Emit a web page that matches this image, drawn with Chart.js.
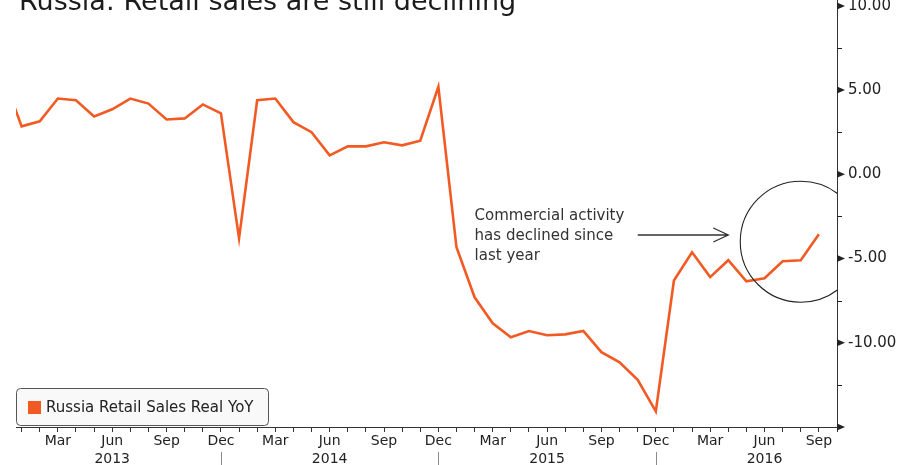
<!DOCTYPE html>
<html>
<head>
<meta charset="utf-8">
<script src="https://cdn.jsdelivr.net/npm/chart.js@4/dist/chart.umd.min.js"></script>
<style>
html,body{margin:0;padding:0;background:#fff;overflow:hidden}
canvas{display:block}
</style>
</head>
<body>
<canvas id="c" width="899" height="465"></canvas>
<script>
// ---- data ----
const titleText = 'Russia: Retail sales are still declining';
const seriesLabel = 'Russia Retail Sales Real YoY';

const months = [
  'Dec 2012',
  'Jan 2013','Feb 2013','Mar 2013','Apr 2013','May 2013','Jun 2013',
  'Jul 2013','Aug 2013','Sep 2013','Oct 2013','Nov 2013','Dec 2013',
  'Jan 2014','Feb 2014','Mar 2014','Apr 2014','May 2014','Jun 2014',
  'Jul 2014','Aug 2014','Sep 2014','Oct 2014','Nov 2014','Dec 2014',
  'Jan 2015','Feb 2015','Mar 2015','Apr 2015','May 2015','Jun 2015',
  'Jul 2015','Aug 2015','Sep 2015','Oct 2015','Nov 2015','Dec 2015',
  'Jan 2016','Feb 2016','Mar 2016','Apr 2016','May 2016','Jun 2016',
  'Jul 2016','Aug 2016','Sep 2016','Oct 2016'
];

const retailSalesRealYoY = [
  5.8,
  2.85, 3.15, 4.5, 4.4, 3.44, 3.86,
  4.5, 4.2, 3.26, 3.32, 4.15, 3.62,
  -3.8, 4.4, 4.5, 3.1, 2.5, 1.13,
  1.66, 1.66, 1.9, 1.72, 2.0, 5.2,
  -4.33, -7.3, -8.84, -9.67, -9.3, -9.55,
  -9.5, -9.3, -10.56, -11.16, -12.2, -14.07,
  -6.3, -4.63, -6.1, -5.1, -6.35, -6.17,
  -5.16, -5.1, -3.56
];

const shownMonths = ['Mar', 'Jun', 'Sep', 'Dec'];
const yearLabelMonth = 'Jun';
const yearSeparatorMonth = 'Dec';
const yMajorTicks = [-15, -10, -5, 0, 5, 10];
const yMinorTicks = [-12.5, -7.5, -2.5, 2.5, 7.5];

const noteLines = ['Commercial activity', 'has declined since', 'last year'];
const noteAnchor = { x: 26, y: -2.5 };        // month index, value
const arrowFrom = { x: 35, y: -3.6 };
const arrowTo = { x: 40, y: -3.6 };
const circleCenter = { x: 44, y: -4.0 };

// ---- chart ----
const FONT = '"DejaVu Sans", Verdana, sans-serif';
const LINE_COLOR = '#f25a24';
const INK = '#222';

const points = retailSalesRealYoY.map((v, i) => ({ x: i, y: v }));

const decorations = {
  id: 'decorations',
  afterDraw(chart) {
    const { ctx, chartArea: a, scales: { x, y } } = chart;
    ctx.save();

    // title (cropped at top, as in the reference)
    ctx.font = '27px ' + FONT;
    ctx.fillStyle = '#1c1c1c';
    ctx.textAlign = 'left';
    ctx.textBaseline = 'alphabetic';
    ctx.fillText(titleText, 19, 10);

    // right axis: triangles at major ticks, short minor ticks
    ctx.fillStyle = INK;
    yMajorTicks.forEach(v => {
      const py = y.getPixelForValue(v);
      ctx.beginPath();
      ctx.moveTo(a.right, py - 3.5);
      ctx.lineTo(a.right + 8, py);
      ctx.lineTo(a.right, py + 3.5);
      ctx.closePath();
      ctx.fill();
    });
    ctx.strokeStyle = INK;
    ctx.lineWidth = 1;
    yMinorTicks.forEach(v => {
      const py = Math.round(y.getPixelForValue(v)) + 0.5;
      ctx.beginPath();
      ctx.moveTo(a.right, py);
      ctx.lineTo(a.right + 5, py);
      ctx.stroke();
    });

    // year separators below the axis
    ctx.strokeStyle = '#8a8a8a';
    months.forEach((m, i) => {
      if (m.split(' ')[0] === yearSeparatorMonth && i > 0 && i >= x.min) {
        const px = Math.round(x.getPixelForValue(i)) + 0.5;
        ctx.beginPath();
        ctx.moveTo(px, a.bottom + 25);
        ctx.lineTo(px, chart.height);
        ctx.stroke();
      }
    });

    // legend box
    const lx = 16.5, ly = 388.5, lw = 252, lh = 37, r = 4;
    ctx.beginPath();
    ctx.moveTo(lx + r, ly);
    ctx.lineTo(lx + lw - r, ly);
    ctx.quadraticCurveTo(lx + lw, ly, lx + lw, ly + r);
    ctx.lineTo(lx + lw, ly + lh - r);
    ctx.quadraticCurveTo(lx + lw, ly + lh, lx + lw - r, ly + lh);
    ctx.lineTo(lx + r, ly + lh);
    ctx.quadraticCurveTo(lx, ly + lh, lx, ly + lh - r);
    ctx.lineTo(lx, ly + r);
    ctx.quadraticCurveTo(lx, ly, lx + r, ly);
    ctx.closePath();
    ctx.fillStyle = '#f9f9f9';
    ctx.fill();
    ctx.strokeStyle = '#555';
    ctx.stroke();
    const ds = chart.data.datasets[0];
    ctx.fillStyle = ds.borderColor;
    ctx.fillRect(28, 401, 13, 13);
    ctx.fillStyle = INK;
    ctx.font = '15px ' + FONT;
    ctx.textBaseline = 'middle';
    ctx.fillText(ds.label, 46, 408);

    // annotation text
    ctx.fillStyle = '#333';
    ctx.font = '15px ' + FONT;
    const tx = x.getPixelForValue(noteAnchor.x);
    const ty = y.getPixelForValue(noteAnchor.y);
    noteLines.forEach((t, k) => ctx.fillText(t, tx, ty + k * 20));

    // arrow
    const ax1 = x.getPixelForValue(arrowFrom.x), ay1 = y.getPixelForValue(arrowFrom.y);
    const ax2 = x.getPixelForValue(arrowTo.x), ay2 = y.getPixelForValue(arrowTo.y);
    ctx.strokeStyle = '#333';
    ctx.lineWidth = 1.3;
    ctx.beginPath();
    ctx.moveTo(ax1, ay1);
    ctx.lineTo(ax2, ay2);
    ctx.moveTo(ax2 - 15, ay2 - 7);
    ctx.lineTo(ax2, ay2);
    ctx.lineTo(ax2 - 15, ay2 + 7);
    ctx.stroke();

    // circle, clipped to the plot area
    ctx.save();
    ctx.beginPath();
    ctx.rect(a.left, a.top, a.right - a.left, a.bottom - a.top);
    ctx.clip();
    ctx.strokeStyle = '#222';
    ctx.lineWidth = 1.1;
    ctx.beginPath();
    ctx.arc(x.getPixelForValue(circleCenter.x), y.getPixelForValue(circleCenter.y), 60.5, 0, Math.PI * 2);
    ctx.stroke();
    ctx.restore();

    ctx.restore();
  }
};

Chart.defaults.font.family = FONT;
Chart.defaults.color = INK;

function noScalePadding(scale) {
  scale.paddingTop = 0;
  scale.paddingBottom = 0;
  scale.paddingLeft = 0;
  scale.paddingRight = 0;
}

new Chart(document.getElementById('c'), {
  type: 'line',
  data: {
    datasets: [{
      label: seriesLabel,
      data: points,
      borderColor: LINE_COLOR,
      backgroundColor: LINE_COLOR,
      borderWidth: 2.6,
      pointRadius: 0,
      tension: 0,
      fill: false
    }]
  },
  options: {
    responsive: false,
    animation: false,
    events: [],
    layout: { autoPadding: false, padding: { left: 16, top: 0, right: 0, bottom: 0 } },
    plugins: { legend: { display: false }, tooltip: { enabled: false }, title: { display: false } },
    scales: {
      x: {
        type: 'linear',
        min: 0.69,
        max: 46,
        afterBuildTicks(scale) {
          scale.ticks = months.map((_, i) => ({ value: i })).filter(t => t.value >= scale.min);
        },
        afterFit(scale) { scale.height = 38; noScalePadding(scale); },
        ticks: {
          autoSkip: false,
          maxRotation: 0,
          padding: 0,
          color: INK,
          font: { size: 14, lineHeight: 18 / 14 },
          callback(value) {
            const label = months[value];
            if (!label) return '';
            const [m, yr] = label.split(' ');
            if (!shownMonths.includes(m)) return '';
            return m === yearLabelMonth ? [m, yr] : m;
          }
        },
        grid: { drawOnChartArea: false, drawTicks: true, tickLength: 5, color: '#333' },
        border: { display: true, color: '#333', width: 1 }
      },
      y: {
        position: 'right',
        min: -15,
        max: 10.35,
        afterBuildTicks(scale) {
          scale.ticks = yMajorTicks.map(v => ({ value: v }));
        },
        afterFit(scale) { scale.width = 62; noScalePadding(scale); },
        ticks: {
          padding: 3,
          color: INK,
          font: { size: 15 },
          callback(value) { return value === -15 ? '' : Number(value).toFixed(2); }
        },
        grid: { display: false },
        border: { display: true, color: '#333', width: 1 }
      }
    }
  },
  plugins: [decorations]
});
</script>
</body>
</html>
